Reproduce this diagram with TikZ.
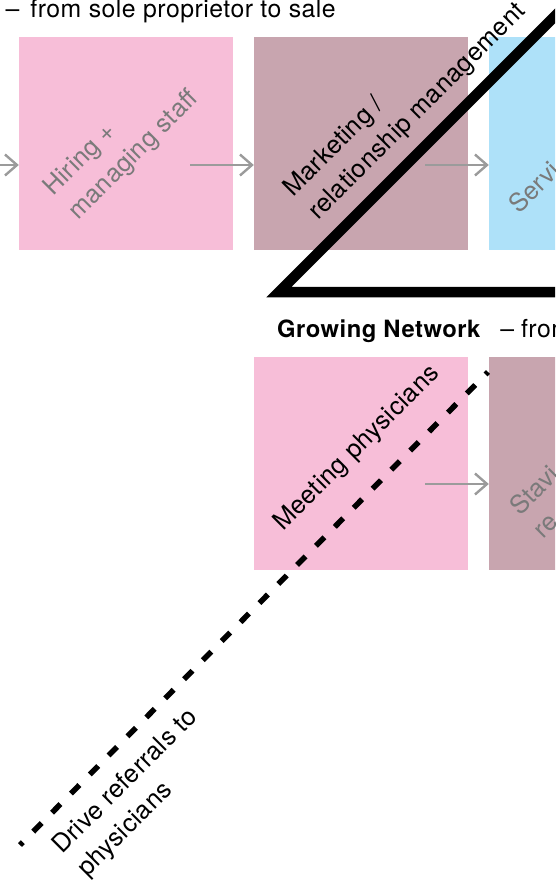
\documentclass[tikz,border=0pt]{standalone}
\usepackage{fontspec}
\setmainfont[LetterSpace=2]{TeX Gyre Heros}
\usetikzlibrary{arrows.meta}
\definecolor{pinkc}{HTML}{F7BED8}
\definecolor{mauvec}{HTML}{C8A5AF}
\definecolor{bluec}{HTML}{AEE1F9}
\definecolor{greyt}{HTML}{7A7A7A}
\definecolor{arrc}{HTML}{9B9B9B}
\begin{document}
\begin{tikzpicture}[x=1pt,y=-1pt,
  box/.style={minimum width=214pt,minimum height=213pt,inner sep=0pt,draw=none},
  lbl/.style={rotate=45,anchor=base west,inner sep=0pt,font=\fontsize{25.3}{35}\selectfont},
  dim/.style={lbl,text=greyt},
  hot/.style={lbl,text=black},
  ttl/.style={inner sep=0pt,font=\fontsize{24.8}{28}\selectfont},
  arr/.style={draw=arrc,line width=2.4pt,-{Straight Barb[length=12pt,width=21pt]}},
  tri/.style={draw=black,line width=10.5pt,miter limit=10},
  dsh/.style={draw=black,line width=5.5pt,dash pattern=on 12pt off 14.8pt,dash phase=8pt}]
\useasboundingbox (0,0) rectangle (555,887);
\clip (0,0) rectangle (555,887);
% titles
\node[ttl,anchor=base east] (t1) at (336,17) {–\hspace{11pt}from sole proprietor to sale};
\node[ttl,anchor=base west] (t2) at (277,337) {{\fontsize{23.8}{28}\selectfont\bfseries Growing Network}\hspace{20pt}–\hspace{7pt}from};
% boxes
\node[box,fill=pinkc] (hire) at (126,143.5) {};
\node[box,fill=mauvec] (mkt) at (361,143.5) {};
\node[box,fill=bluec] (serv) at (596,143.5) {};
\node[box,fill=pinkc] (meet) at (361,463.5) {};
\node[box,fill=mauvec] (stav) at (596,463.5) {};
% arrows
\coordinate (a0s) at (-30,165);
\coordinate (a1s) at (190,165);
\coordinate (a2s) at (425,165);
\coordinate (a3s) at (425,484);
\draw[arr] (a0s) -- (hire.west |- a0s);
\draw[arr] (a1s) -- (mkt.west |- a1s);
\draw[arr] (a2s) -- (serv.west |- a2s);
\draw[arr] (a3s) -- (stav.west |- a3s);
% big triangle
\coordinate (tv) at (279,292);
\coordinate (tr) at (700,292);
\coordinate (tt) at (619,-48);
\draw[tri] (tr) -- (tv) -- (tt);
% dashed line
\coordinate (d1) at (20,845);
\coordinate (d2) at (488,372);
\draw[dsh] (d1) -- (d2);
% labels
\node[dim] (h1) at (53,197) {Hiring +};
\node[dim] (h2) at (78,221) {managing staff};
\node[hot] (m1) at (293,198) {Marketing /};
\node[hot] (m2) at (318,221) {relationship management};
\node[dim] (s1) at (519,215) {Servi};
\node[hot] (p1) at (283,532) {Meeting physicians};
\node[dim] (v1) at (520,517) {Stavi};
\node[dim] (v2) at (543,540) {re};
\node[hot] (r1) at (62,855) {Drive referrals to};
\node[hot] (r2) at (87,878) {physicians};
\end{tikzpicture}
\end{document}
